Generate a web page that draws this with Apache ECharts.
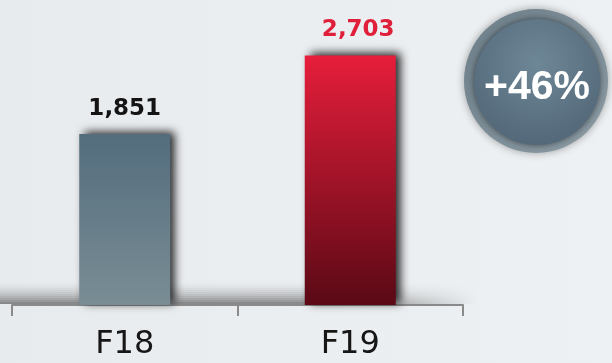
<!DOCTYPE html>
<html>
<head>
<meta charset="utf-8">
<style>
  html, body { margin: 0; padding: 0; }
  #chart { width: 612px; height: 363px; }
</style>
<script src="https://cdn.jsdelivr.net/npm/echarts@6/dist/echarts.min.js"></script>
</head>
<body>
<div id="chart"></div>
<script>
// Fiscal-year totals
const categories = ['F18', 'F19'];
const values = [1851, 2703];
const labelColors = ['#141414', '#e01f3b'];
const barGradients = [
  ['#536d7d', '#7a8d95'],
  ['#e61e3b', '#5a0915']
];

const growth = Math.round((values[1] / values[0] - 1) * 100);
const fmt = v => v.toLocaleString('en-US');

const chart = echarts.init(document.getElementById('chart'));

// Soft floor shadow along the baseline, built from thin fading strips
const floorStrips = [];
const stripCount = 11;
for (let i = 0; i < stripCount; i++) {
  const a = 0.5 * Math.pow(1 - i / stripCount, 1.7);
  floorStrips.push({
    type: 'rect',
    z: 1,
    silent: true,
    shape: { x: 0, y: 304 - (i + 1) * 2, width: 478, height: 2 },
    style: {
      fill: new echarts.graphic.LinearGradient(0, 0, 1, 0, [
        { offset: 0, color: 'rgba(40,40,40,' + a + ')' },
        { offset: 0.72, color: 'rgba(40,40,40,' + a + ')' },
        { offset: 1, color: 'rgba(40,40,40,0)' }
      ])
    }
  });
}

chart.setOption({
  backgroundColor: new echarts.graphic.LinearGradient(0, 0, 1, 0, [
    { offset: 0, color: '#e8ebee' },
    { offset: 1, color: '#eef1f3' }
  ]),
  animation: false,
  grid: { left: 12, right: 149, top: 28, bottom: 58 },
  xAxis: {
    type: 'category',
    data: categories,
    axisLine: { lineStyle: { color: '#8a8a8a', width: 2 } },
    axisTick: { show: true, length: 11, lineStyle: { color: '#8a8a8a', width: 2 } },
    axisLabel: {
      color: '#161616',
      fontFamily: 'DejaVu Sans',
      fontSize: 32,
      margin: 24
    }
  },
  yAxis: {
    type: 'value',
    min: 0,
    max: 3000,
    show: false,
    splitLine: { show: false }
  },
  series: [{
    type: 'bar',
    z: 3,
    barWidth: 91,
    data: values.map((v, i) => ({
      value: v,
      itemStyle: {
        color: new echarts.graphic.LinearGradient(0, 0, 0, 1, [
          { offset: 0, color: barGradients[i][0] },
          { offset: 1, color: barGradients[i][1] }
        ]),
        shadowColor: 'rgba(0,0,0,0.85)',
        shadowBlur: 9,
        shadowOffsetX: 5,
        shadowOffsetY: -2
      },
      label: {
        show: true,
        position: 'top',
        distance: 14,
        offset: [i === 1 ? 8 : 0, 0],
        formatter: () => fmt(v),
        color: labelColors[i],
        fontFamily: 'DejaVu Sans',
        fontWeight: 'bold',
        fontSize: 23
      }
    }))
  }],
  graphic: floorStrips.concat([
    {
      type: 'circle',
      z: 5,
      shape: { cx: 536, cy: 81, r: 72 },
      style: {
        fill: new echarts.graphic.LinearGradient(0, 0, 1, 1, [
          { offset: 0, color: '#6c7e89' },
          { offset: 1, color: '#8d9ca5' }
        ]),
        shadowColor: 'rgba(0,0,0,0.35)',
        shadowBlur: 8
      }
    },
    {
      type: 'circle',
      z: 6,
      shape: { cx: 537, cy: 82, r: 63 },
      style: {
        fill: new echarts.graphic.RadialGradient(0.5, 0.35, 0.7, [
          { offset: 0, color: '#6e8796' },
          { offset: 1, color: '#516677' }
        ]),
        shadowColor: 'rgba(0,0,0,0.5)',
        shadowBlur: 6
      }
    },
    {
      type: 'text',
      z: 7,
      x: 537,
      y: 88,
      style: {
        text: '+' + growth + '%',
        fill: '#ffffff',
        font: 'bold 41px "Liberation Sans"',
        align: 'center',
        verticalAlign: 'middle'
      }
    }
  ])
});
</script>
</body>
</html>
